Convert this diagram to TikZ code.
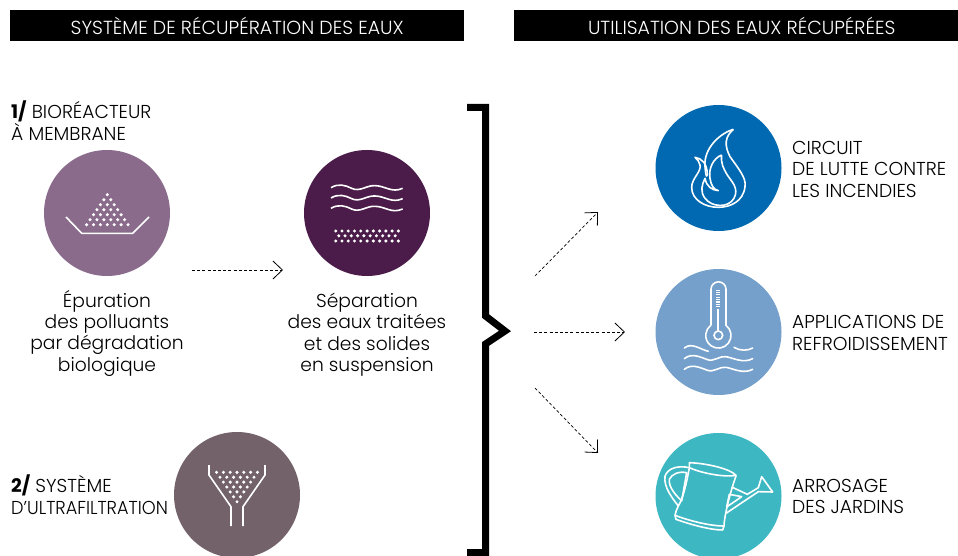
\documentclass[tikz,border=0pt]{standalone}
\usepackage{fontspec}
\setmainfont{Poppins}[UprightFont=* Light,BoldFont=* Bold]
\usetikzlibrary{arrows.meta}
\definecolor{cA}{HTML}{8A6B8C}
\definecolor{cB}{HTML}{4B1C49}
\definecolor{cC}{HTML}{73626A}
\definecolor{cD}{HTML}{0069B1}
\definecolor{cE}{HTML}{74A0CB}
\definecolor{cF}{HTML}{3DB7C2}
\tikzset{
 headbar/.style={fill=black,minimum height=31pt,inner sep=0pt,text=white,font=\fontsize{18.9}{20}\selectfont},
 disc/.style={circle,minimum size=126pt,inner sep=0pt,draw=none},
 lab/.style={inner sep=0pt,anchor=north west,align=left,font=\fontsize{18.7}{21.3}\selectfont},
 captext/.style={inner sep=0pt,anchor=north,align=center,font=\fontsize{18.7}{21.3}\selectfont},
 ic/.style={draw=white,line width=1.6pt,line join=miter,fill=none},
 flow/.style={draw=black,line width=.7pt,dash pattern=on 3pt off 2.2pt,-{Straight Barb[length=9.5pt,width=18pt,line width=.8pt]}},
}
\newcommand{\dotrow}[4]{\foreach \k in {1,...,#3}{\fill[white] ({#1+(\k-1)*#4},{#2}) circle (1.7pt);}}
\begin{document}
\begin{tikzpicture}[x=1pt,y=-1pt]
\useasboundingbox (0,0) rectangle (958,556);
\node[headbar,minimum width=454pt,anchor=north west] (h1) at (10,10) {SYSTÈME DE RÉCUPÉRATION DES EAUX};
\node[headbar,minimum width=444pt,anchor=north west] (h2) at (514,10) {\hspace{11pt}UTILISATION DES EAUX RÉCUPÉRÉES};

\node[disc,fill=cA] (c1) at (107,213) {};
\node[disc,fill=cB] (c2) at (367,213) {};
\node[disc,fill=cC] (c3) at (237,495) {};
\node[disc,fill=cD] (c4) at (718.5,168) {};
\node[disc,fill=cE] (c5) at (718.5,332) {};
\node[disc,fill=cF] (c6) at (718.5,496) {};

\node[lab] (t1) at (11,101) {\textbf{1/} BIORÉACTEUR\\À MEMBRANE};
\node[captext] (t2) at (107,290) {Épuration\\des polluants\\par dégradation\\biologique};
\node[captext] (t3) at (367,293) {Séparation\\des eaux traitées\\et des solides\\en suspension};
\node[lab] (t4) at (11,475) {\textbf{2/} SYSTÈME\\\scalebox{.945}[1]{D’ULTRAFILTRATION}};
\node[lab] (t5) at (792,141) {CIRCUIT\\DE LUTTE CONTRE\\LES INCENDIES};
\node[lab] (t6) at (792,315.5) {APPLICATIONS DE\\REFROIDISSEMENT};
\node[lab] (t7) at (792,479) {ARROSAGE\\DES JARDINS};

% bracket
\draw[line width=7pt,miter limit=10] (467,107.5) -- (485.5,107.5) -- (485.5,316) -- (505,331) -- (485.5,344) -- (485.5,552.5) -- (467,552.5);

% arrows
\coordinate (a0) at (192,270); \coordinate (a1) at (283,270);
\coordinate (b0) at (535,276); \coordinate (b1) at (598,212);
\coordinate (d0) at (534,332); \coordinate (d1) at (625,332);
\coordinate (e0) at (535,388); \coordinate (e1) at (598,453);
\draw[flow] (a0) -- (a1);
\draw[flow] (b0) -- (b1);
\draw[flow] (d0) -- (d1);
\draw[flow] (e0) -- (e1);

% icon 1
\foreach \rw in {1,...,7}{\dotrow{107.3-(\rw-1)*3.45}{194.7+(\rw-1)*5}{\rw}{6.9}}
\draw[ic] (66,217) -- (81.7,233.3) -- (132.7,233.3) -- (149,217);

% icon 2
\begin{scope}[shift={(295,145)},x=.3333pt,y=-.3333pt]
\foreach \d in {0,31,62}{
 \begin{scope}[yshift=-\d*.3333pt]
 \draw[ic] (108,128) .. controls (130,115) and (150,120) .. (170,130) .. controls (195,142) and (215,120) .. (240,122) .. controls (270,122) and (290,145) .. (323,130);
 \end{scope}
}
\end{scope}
\dotrow{335.7}{231}{11}{6.27}
\dotrow{338.8}{235.8}{10}{6.27}
\dotrow{335.7}{241}{11}{6.27}

% icon 3
\draw[ic] (209,465) -- (209,475) -- (231,506.7) -- (231,526);
\draw[ic] (265,465) -- (265,475) -- (243,506.7) -- (243,526);
\foreach \rw/\n in {1/7,2/6,3/5,4/4,5/3,6/2,7/1}{\dotrow{237-(\n-1)*3.4}{472.3+(\rw-1)*4.9}{\n}{6.8}}

% fire
\begin{scope}[shift={(650,100)},x=.3333pt,y=-.3333pt]
\draw[ic,line join=round] (250,88) .. controls (225,110) and (222,135) .. (240,170) .. controls (265,205) and (290,235) .. (285,260) .. controls (280,305) and (240,322) .. (205,322) .. controls (165,322) and (125,300) .. (125,262) .. controls (125,235) and (155,215) .. (150,195) .. controls (148,185) and (142,178) .. (135,172) .. controls (155,175) and (172,190) .. (172,225);
\draw[ic,line join=round] (250,88) .. controls (210,100) and (160,145) .. (165,200) .. controls (167,220) and (168,235) .. (172,225);
\draw[ic,line join=round] (215,165) .. controls (190,175) and (175,205) .. (180,235) .. controls (183,255) and (190,268) .. (205,272) .. controls (185,270) and (170,260) .. (165,235) .. controls (155,255) and (150,275) .. (165,295) .. controls (185,322) and (235,325) .. (252,295) .. controls (268,265) and (245,245) .. (232,225) .. controls (220,205) and (212,190) .. (215,165);
\end{scope}

% thermometer
\begin{scope}[shift={(650,262)},x=.3333pt,y=-.3333pt]
\draw[ic] (183,190) -- (183,82) arc[start angle=180,end angle=360,radius=22.5] -- (228,190) arc[start angle=-53,end angle=233,radius=38] ;
\draw[ic] (205,220) circle (13);
\draw[white,line width=2.2pt] (205,207) -- (205,140);
\draw[white,line width=4pt,dash pattern=on 1.2pt off 1.2pt] (205,136) -- (205,85);
\draw[ic,line cap=round] (103,258) .. controls (125,240) and (150,262) .. (175,268);
\draw[ic,line cap=round] (252,256) .. controls (270,268) and (295,266) .. (308,258);
\foreach \d in {0,32}{
 \begin{scope}[yshift=-\d*.3333pt]
 \draw[ic,line cap=round] (103,290) .. controls (125,272) and (150,285) .. (170,292) .. controls (190,302) and (210,280) .. (228,284) .. controls (250,288) and (280,305) .. (308,290);
 \end{scope}
}
\end{scope}

% watering can
\begin{scope}[shift={(650,426)},x=.3333pt,y=-.3333pt]
\draw[ic,line join=round] (118,110) .. controls (170,112) and (240,128) .. (258,148) .. controls (220,155) and (150,140) .. (118,125) -- cycle;
\draw[ic,line join=round] (118,125) .. controls (110,170) and (100,215) .. (85,240) .. controls (80,252) and (76,258) .. (75,268) .. controls (120,285) and (180,300) .. (222,300) .. controls (222,280) and (235,215) .. (258,150);
\draw[ic,line join=round] (75,268) -- (78,280) .. controls (120,295) and (180,312) .. (218,312) -- (222,300);
\draw[ic,line join=round] (118,125) .. controls (85,118) and (55,125) .. (45,150) .. controls (40,185) and (70,220) .. (85,240);
\draw[ic,line join=round] (110,140) .. controls (85,135) and (65,145) .. (58,160) .. controls (55,185) and (80,210) .. (95,225) -- cycle;
\draw[ic,line join=round] (245,183) -- (292,205) -- (325,185) -- (335,152) -- (368,198) -- (325,197) -- (228,262);
\draw[ic,line join=round] (238,205) -- (275,212) -- (230,243) -- cycle;
\end{scope}
\end{tikzpicture}
\end{document}
